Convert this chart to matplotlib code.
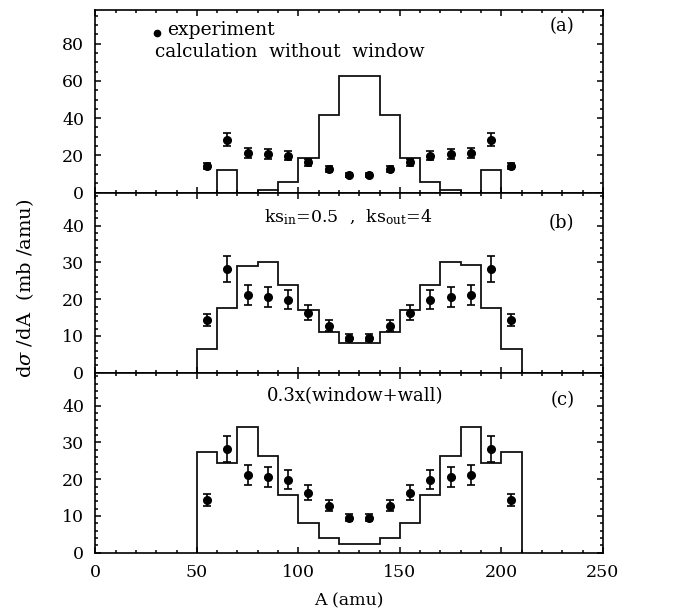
import matplotlib
matplotlib.use("Agg")
import matplotlib.pyplot as plt
from matplotlib.ticker import MultipleLocator

plt.rcParams['font.family'] = ['DejaVu Serif']
plt.rcParams['mathtext.fontset'] = 'dejavuserif'

# Дані
edges = [50, 60, 70, 80, 90, 100, 110, 120, 130, 140, 150, 160, 170, 180, 190, 200, 210]
a_exp = [55, 65, 75, 85, 95, 105, 115, 125, 135, 145, 155, 165, 175, 185, 195, 205]
exp_val = [14.3, 28.3, 21.2, 20.6, 19.9, 16.3, 12.8, 9.5, 9.5, 12.8, 16.3, 19.9, 20.6, 21.2, 28.3, 14.3]
exp_err = [1.7, 3.5, 2.7, 2.7, 2.5, 2.0, 1.5, 1.0, 1.0, 1.5, 2.0, 2.5, 2.7, 2.7, 3.5, 1.7]
calc_a = [0, 12.2, 0, 1.3, 5.5, 18.5, 41.8, 62.7, 62.7, 41.8, 18.5, 5.5, 1.3, 0, 12.2, 0]
calc_b = [6.4, 17.7, 29.1, 30.0, 23.8, 17.0, 11.2, 8.2, 8.2, 11.2, 17.0, 23.8, 30.0, 29.4, 17.7, 6.4]
calc_c = [27.3, 24.4, 34.3, 26.2, 15.6, 8.2, 4.1, 2.4, 2.4, 4.1, 8.2, 15.6, 26.2, 34.3, 24.4, 27.3]

fig = plt.figure(figsize=(6.78, 6.13), dpi=100)
left, width, height = 0.1406, 0.7485, 0.2937
ax_a = fig.add_axes([left, 0.6856, width, 0.298])
ax_b = fig.add_axes([left, 0.392, width, height])
ax_c = fig.add_axes([left, 0.0984, width, height])

panels = [(ax_a, calc_a, 98, 20, 5), (ax_b, calc_b, 49, 10, 2), (ax_c, calc_c, 49, 10, 2)]
for ax, calc, ymax, major, minor in panels:
    ax.stairs(calc, edges, color='#111111', lw=1.3)
    ax.errorbar(a_exp, exp_val, yerr=exp_err, fmt='o', color='black', ms=5.5,
                capsize=3.2, elinewidth=1.2, capthick=1.2)
    ax.set_xlim(0, 250)
    ax.set_ylim(0, ymax)
    ax.xaxis.set_major_locator(MultipleLocator(50))
    ax.xaxis.set_minor_locator(MultipleLocator(10))
    ax.yaxis.set_major_locator(MultipleLocator(major))
    ax.yaxis.set_minor_locator(MultipleLocator(minor))
    ax.set_yticks([t for t in range(0, ymax, major)])
    ax.tick_params(which='both', direction='in', top=True, right=True, labelsize=12.5, width=1.1)
    ax.tick_params(which='major', length=4.5, pad=8)
    ax.tick_params(which='minor', length=2.3)
    for s in ax.spines.values():
        s.set_linewidth(1.2)

ax_a.tick_params(labelbottom=False)
ax_b.tick_params(labelbottom=False)

ax_a.text(236, 89.5, '(a)', ha='right', va='center', fontsize=13)
ax_b.text(236, 40.8, '(b)', ha='right', va='center', fontsize=13)
ax_c.text(236, 41.5, '(c)', ha='right', va='center', fontsize=13)

ax_a.plot([30.5], [85.5], 'o', color='black', ms=4.5)
ax_a.text(35.4, 87.5, 'experiment', ha='left', va='center', fontsize=13.5)
ax_a.text(29.5, 75.5, 'calculation  without  window', ha='left', va='center', fontsize=13.3)

ax_b.text(124.5, 42.3, r'ks$_{\mathrm{in}}$=0.5  ,  ks$_{\mathrm{out}}$=4', ha='center', va='center', fontsize=12.5)
ax_c.text(128, 42.5, '0.3x(window+wall)', ha='center', va='center', fontsize=13)

ax_c.set_xlabel('A (amu)', fontsize=12.5, labelpad=8)
fig.text(0.037, 0.53, r'd$\sigma$ /dA  (mb /amu)', rotation=90, ha='center', va='center', fontsize=14)

fig.savefig('out.png', dpi=100)
